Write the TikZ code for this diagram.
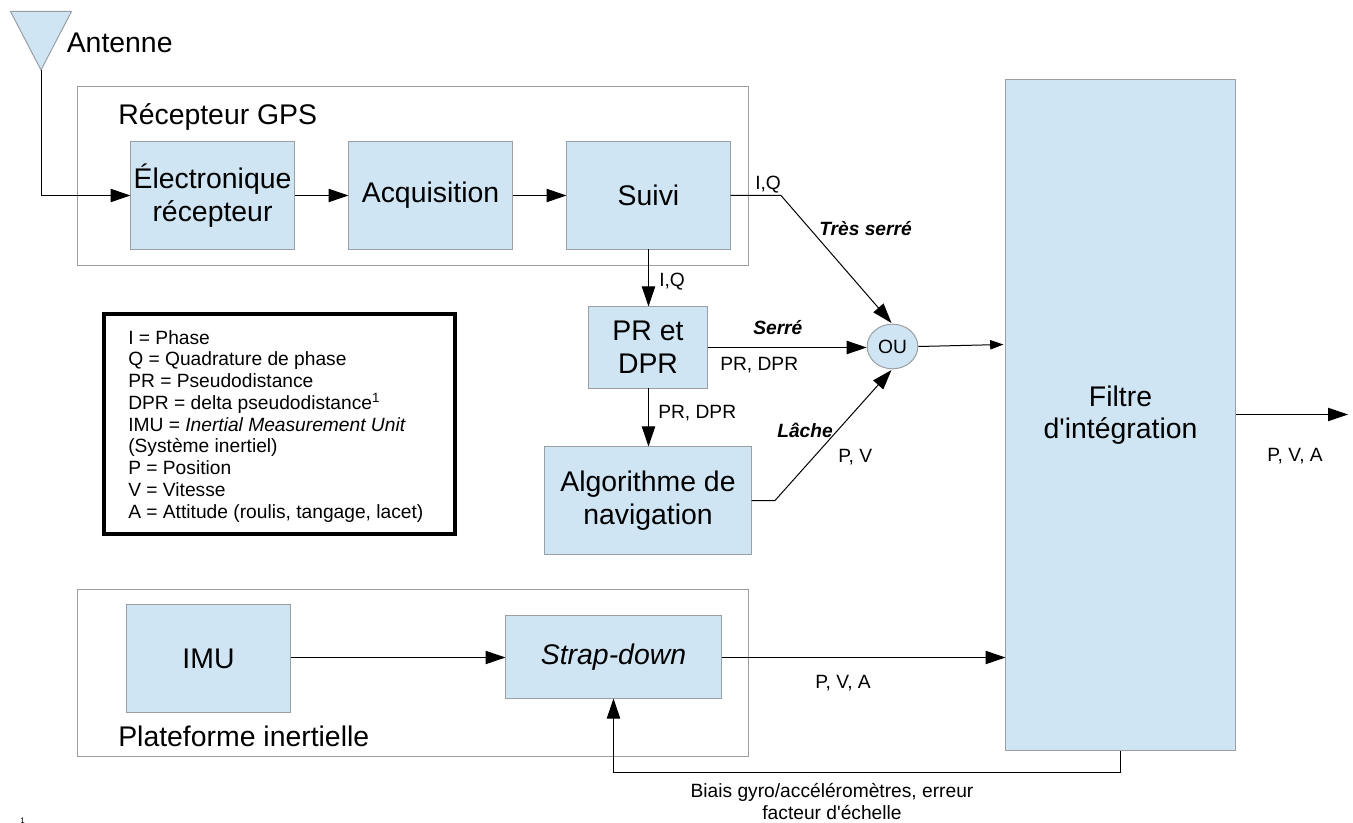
\documentclass[tikz,border=0pt]{standalone}
\usepackage{fontspec}
\setmainfont{Liberation Sans}
\usetikzlibrary{arrows.meta,calc,shapes.geometric}
\definecolor{boxfill}{HTML}{CFE5F3}
\definecolor{boxline}{HTML}{9A9FA3}
\tikzset{
  x=0.75pt,y=-0.75pt,
  frame/.style={draw=boxline,line width=0.75pt},
  big/.style={font=\fontsize{21.3}{24.5}\selectfont,inner sep=0pt},
  small/.style={font=\fontsize{14.4}{16.5}\selectfont,inner sep=0pt,align=center},
  boldlab/.style={font=\fontsize{14.4}{17}\bfseries\itshape\selectfont,inner sep=0pt},
  conn/.style={draw=black,line width=0.75pt,-{Triangle[length=15pt,width=10pt]}},
  thinconn/.style={draw=black,line width=0.75pt,-{Triangle[length=10pt,width=7pt]}},
}
\newcommand{\blk}[5]{\node[draw=boxline,fill=boxfill,line width=0.75pt,minimum width=#3*0.75pt,minimum height=#4*0.75pt,inner sep=0pt,outer sep=0pt,align=center,font=\fontsize{21.3}{24.5}\selectfont] (#1) at (#2) {#5};}
\begin{document}
\begin{tikzpicture}
\useasboundingbox (0,0) rectangle (1353,823);
% frames
\draw[frame] (77.5,86.5) rectangle (748.5,265.5);
\draw[frame] (77.5,589.5) rectangle (748.5,756.5);
% antenna
\draw[draw=boxline,fill=boxfill,line width=0.75pt] (10.5,11.5) -- (71.5,11.5) -- (41,70) -- cycle;
\coordinate (ant) at (41.5,70);
\node[big,anchor=base west] (antl) at (66.5,53) {Antenne};
\node[big,anchor=base west] (gpsl) at (118,125) {Récepteur GPS};
\node[big,anchor=base west] (pfl) at (118,746) {Plateforme inertielle};
% blocks
\blk{elec}{212.5,195.5}{164}{108}{Électronique\\récepteur}
\blk{acq}{430.5,195.5}{164}{108}{Acquisition}
\blk{suivi}{648.5,195.5}{164}{108}{Suivi}
\blk{prdpr}{648,347.5}{119}{82}{PR et\\DPR}
\blk{algo}{648,500.5}{207}{108}{Algorithme de\\navigation}
\blk{imu}{208.5,658.5}{164}{108}{IMU}
\blk{strap}{613.5,657}{216}{83}{\textit{Strap-down}}
\blk{filtre}{1120.5,415}{230}{671}{Filtre\\d\textquotesingle intégration}
\node[draw=boxline,fill=boxfill,line width=0.75pt,ellipse,minimum width=38pt,minimum height=33.5pt,inner sep=0pt,font=\fontsize{14.4}{16}\selectfont] (ou) at (892.5,346.5) {OU};
% legend
\node[draw=black,line width=3pt,minimum width=263pt,minimum height=165pt,anchor=north west,inner sep=0pt,outer sep=0pt] (leg) at (104,314) {};
\node[anchor=north west,inner sep=0pt,align=left,font=\fontsize{14.4}{16.3}\selectfont] (legt) at (128,330) {I = Phase\\Q = Quadrature de phase\\PR = Pseudodistance\\DPR = delta pseudodistance\textsuperscript{1}\\IMU = \textit{Inertial Measurement Unit}\\(Système inertiel)\\P = Position\\V = Vitesse\\A = Attitude (roulis, tangage, lacet)};
% connectors
\coordinate (c1) at (41.5,195.5);
\draw[conn] (ant) -- (c1) -- (elec.west);
\draw[conn] (elec.east) -- (acq.west);
\draw[conn] (acq.east) -- (suivi.west);
\coordinate (c2) at (781,195.5);
\coordinate (t1) at (891.5,323);
\draw[conn] (suivi.east) -- (c2) -- (t1);
\draw[conn] (suivi.south) -- (suivi.south |- prdpr.north);
\draw[conn] (prdpr.south -| suivi.south) -- (suivi.south |- algo.north);
\draw[conn] (prdpr.east) -- (ou.west |- prdpr.east);
\coordinate (c4) at (775,500.5);
\coordinate (t2) at (891.5,370);
\draw[conn] (algo.east) -- (c4) -- (t2);
\coordinate (c5) at (1003.5,344.5);
\draw[thinconn] (ou.east) -- (c5);
\coordinate (c6) at (0,657.5);
\draw[conn] (imu.east |- c6) -- (strap.west |- c6);
\draw[conn] (strap.east |- c6) -- (filtre.west |- c6);
\coordinate (c7) at (1120.5,772.5);
\coordinate (c8) at (613.5,772.5);
\draw[conn] (filtre.south) -- (c7) -- (c8) -- (strap.south);
\coordinate (c9) at (1348,414.5);
\draw[conn] (filtre.east |- c9) -- (c9);
% labels
\node[small,anchor=base west] (l1) at (755,190) {I,Q};
\node[small,anchor=base west] (l2) at (659,287) {I,Q};
\node[boldlab,anchor=base west] (l3) at (819,236) {Très serré};
\node[boldlab,anchor=base west] (l4) at (753,335) {Serré};
\node[small,anchor=base west] (l5) at (720,371) {PR, DPR};
\node[small,anchor=base west] (l6) at (658,419) {PR, DPR};
\node[boldlab,anchor=base west] (l7) at (777,437) {Lâche};
\node[small,anchor=base west] (l8) at (838,463) {P, V};
\node[small,anchor=base west] (l9) at (815,688) {P, V, A};
\node[small,anchor=base west] (l10) at (1267,461) {P, V, A};
\node[small] (l11) at (832,802) {Biais gyro/accéléromètres, erreur\\facteur d\textquotesingle échelle};
\node[anchor=base west,inner sep=0pt,font=\fontsize{6}{7}\selectfont] (fn) at (20,823) {1};
\end{tikzpicture}
\end{document}
